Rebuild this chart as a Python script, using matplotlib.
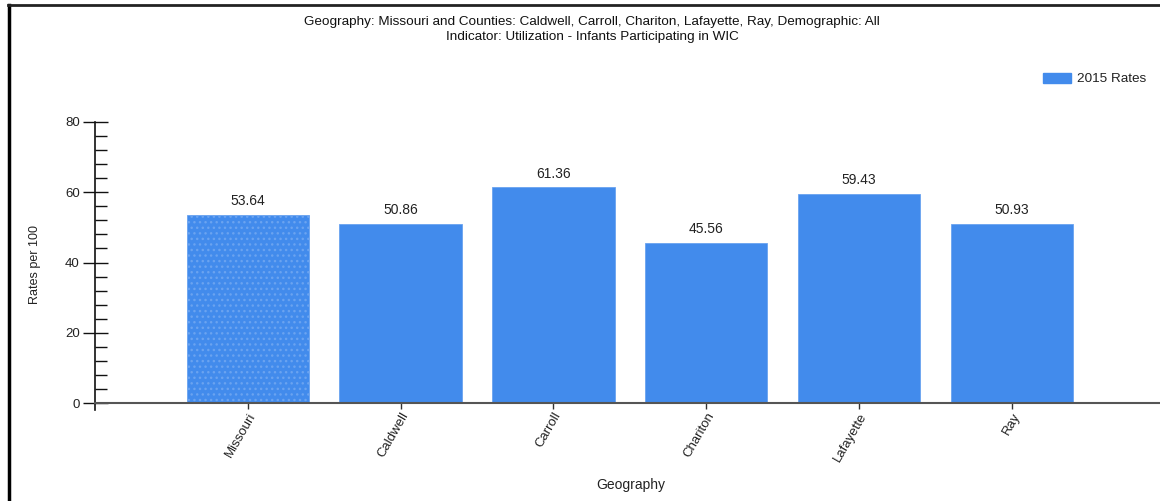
import matplotlib
matplotlib.use("Agg")
import matplotlib.pyplot as plt
from matplotlib.ticker import MultipleLocator
from matplotlib.lines import Line2D

plt.rcParams['font.family'] = ['Liberation Sans', 'DejaVu Sans']
plt.rcParams['hatch.color'] = '#d4e4fc'
plt.rcParams['hatch.linewidth'] = 1.0

geographies = ["Missouri", "Caldwell", "Carroll", "Chariton", "Lafayette", "Ray"]
rates_2015 = [53.64, 50.86, 61.36, 45.56, 59.43, 50.93]
series_label = "2015 Rates"
title_lines = [
    "Geography: Missouri and Counties: Caldwell, Carroll, Chariton, Lafayette, Ray, Demographic: All",
    "Indicator: Utilization - Infants Participating in WIC",
]

W, H = 1160, 501
fig = plt.figure(figsize=(W / 100, H / 100), dpi=100)

# plot area in pixel coordinates
left_px, right_px, top_px, bottom_px = 95, 1160, 122, 403
ax = fig.add_axes([left_px / W, 1 - bottom_px / H,
                   (right_px - left_px) / W, (bottom_px - top_px) / H])

bar_color = '#428BEC'
xs = list(range(len(geographies)))
bars = ax.bar(xs, rates_2015, width=0.8, color=bar_color,
              edgecolor='#6aa3f0', linewidth=0.6)
bars[0].set_hatch('...')

for x, v in zip(xs, rates_2015):
    ax.annotate(f"{v:.2f}", (x, v), xytext=(0, 5), textcoords='offset points',
                ha='center', va='bottom', fontsize=10, color='#222222')

ax.set_xlim(-1, 5.97)
ax.set_ylim(0, 80)

for s in ['top', 'right']:
    ax.spines[s].set_visible(False)
ax.spines['left'].set_color('#111111')
ax.spines['left'].set_linewidth(1.2)
ax.spines['left'].set_bounds(-2, 80)
ax.spines['bottom'].set_color('#555555')
ax.spines['bottom'].set_linewidth(1.5)

ax.yaxis.set_major_locator(MultipleLocator(20))
ax.yaxis.set_minor_locator(MultipleLocator(4))
ax.tick_params(axis='y', which='major', direction='inout', length=18,
               width=1, color='#111111', labelsize=9.5, pad=2)
ax.tick_params(axis='y', which='minor', direction='in', length=8.6,
               width=1, color='#111111')
ax.set_xticks(xs)
ax.set_xticklabels(geographies, rotation=60, ha='right', rotation_mode='anchor',
                   fontsize=9.5, color='#222222')
ax.tick_params(axis='x', direction='out', length=4.3, width=1, color='#333333', pad=1)
for lbl in ax.get_yticklabels():
    lbl.set_color('#222222')

fig.text(35 / W, 1 - 265 / H, "Rates per 100", rotation=90, ha='center',
         va='center', fontsize=9, color='#222222')
fig.text(631 / W, 1 - 485 / H, "Geography", ha='center', va='center',
         fontsize=10, color='#222222')
fig.text(592 / W, 1 - 22 / H, title_lines[0], ha='center', va='center',
         fontsize=9.7, color='#111111')
fig.text(592 / W, 1 - 37 / H, title_lines[1], ha='center', va='center',
         fontsize=9.7, color='#111111')

# overlay in pixel coordinates for legend and outer frame
ov = fig.add_axes([0, 0, 1, 1], facecolor='none')
ov.set_xlim(0, W)
ov.set_ylim(H, 0)
ov.axis('off')
ov.add_patch(plt.Rectangle((1043, 73), 28, 10, color=bar_color))
ov.text(1077, 78.5, series_label, ha='left', va='center', fontsize=9.7,
        color='#222222')

ov.add_line(Line2D([9, 9], [5, H], color='black', linewidth=2.5))
ov.add_line(Line2D([8, W], [5, 5], color='#222222', linewidth=2.0))

fig.savefig("out.png", dpi=100, facecolor='white')
